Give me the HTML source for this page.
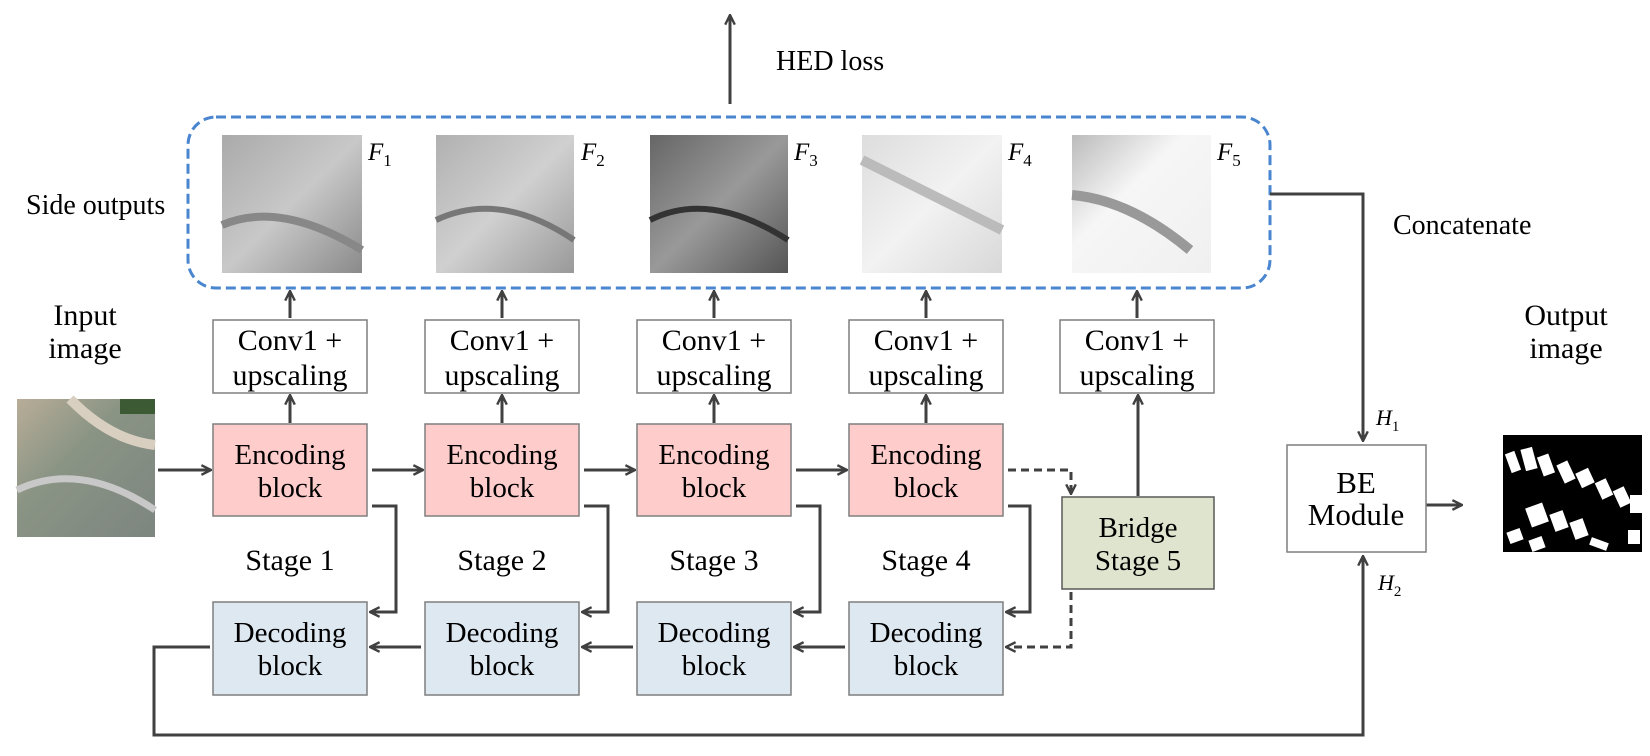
<!DOCTYPE html>
<html><head><meta charset="utf-8"><style>
html,body{margin:0;padding:0;background:#fff;}
svg{display:block;}
text{font-family:"Liberation Serif",serif;fill:#000;}
</style></head><body>
<svg width="1650" height="756" viewBox="0 0 1650 756" xmlns="http://www.w3.org/2000/svg">
<defs>
<marker id="ah" viewBox="0 0 10 10" refX="9" refY="5" markerWidth="4" markerHeight="4" orient="auto"><path d="M1,1 L9,5 L1,9" fill="none" stroke="#404040" stroke-width="2"/></marker>
<linearGradient id="g1" x1="0" y1="0" x2="1" y2="1"><stop offset="0" stop-color="#aaa"/><stop offset=".5" stop-color="#c8c8c8"/><stop offset="1" stop-color="#8a8a8a"/></linearGradient>
<linearGradient id="g2" x1="0" y1="0" x2="1" y2="1"><stop offset="0" stop-color="#b0b0b0"/><stop offset=".5" stop-color="#d0d0d0"/><stop offset="1" stop-color="#999"/></linearGradient>
<linearGradient id="g3" x1="0" y1="0" x2="1" y2="1"><stop offset="0" stop-color="#666"/><stop offset=".5" stop-color="#999"/><stop offset="1" stop-color="#555"/></linearGradient>
<linearGradient id="g4" x1="0" y1="0" x2="1" y2="1"><stop offset="0" stop-color="#ddd"/><stop offset=".5" stop-color="#f2f2f2"/><stop offset="1" stop-color="#d8d8d8"/></linearGradient>
<linearGradient id="g5" x1="0" y1="0" x2="1" y2="1"><stop offset="0" stop-color="#bbb"/><stop offset=".4" stop-color="#f6f6f6"/><stop offset="1" stop-color="#f0f0f0"/></linearGradient>
<linearGradient id="gin" x1="0" y1="0" x2="1" y2="1"><stop offset="0" stop-color="#b8ad98"/><stop offset=".4" stop-color="#8a9484"/><stop offset="1" stop-color="#7d8580"/></linearGradient>
</defs>

<!-- HED loss -->
<line x1="730" y1="104" x2="730" y2="15" stroke="#404040" stroke-width="3" marker-end="url(#ah)"/>
<text x="776" y="70" font-size="28">HED loss</text>

<!-- dashed box -->
<rect x="188" y="117" width="1082" height="171" rx="28" fill="none" stroke="#4a86d0" stroke-width="3" stroke-dasharray="10,5"/>

<!-- side output images -->
<rect x="222" y="135" width="140" height="138" fill="url(#g1)"/>
<path d="M222,225 Q280,200 362,250" stroke="#888" stroke-width="8" fill="none"/>
<rect x="436" y="135" width="138" height="138" fill="url(#g2)"/>
<path d="M436,220 Q500,190 574,240" stroke="#777" stroke-width="6" fill="none"/>
<rect x="650" y="135" width="138" height="138" fill="url(#g3)"/>
<path d="M650,220 Q710,190 788,240" stroke="#333" stroke-width="6" fill="none"/>
<rect x="862" y="135" width="140" height="138" fill="url(#g4)"/>
<path d="M862,160 L1002,230" stroke="#bbb" stroke-width="10" fill="none"/>
<rect x="1072" y="135" width="139" height="138" fill="url(#g5)"/>
<path d="M1072,195 Q1130,200 1190,250" stroke="#999" stroke-width="10" fill="none"/>
<g font-size="25" font-style="italic">
<text x="368" y="160">F<tspan font-size="17" font-style="normal" dy="6">1</tspan></text>
<text x="581" y="160">F<tspan font-size="17" font-style="normal" dy="6">2</tspan></text>
<text x="794" y="160">F<tspan font-size="17" font-style="normal" dy="6">3</tspan></text>
<text x="1008" y="160">F<tspan font-size="17" font-style="normal" dy="6">4</tspan></text>
<text x="1217" y="160">F<tspan font-size="17" font-style="normal" dy="6">5</tspan></text>
</g>
<text x="26" y="214" font-size="28">Side outputs</text>

<!-- Conv boxes -->
<g font-size="30" text-anchor="middle">
<rect x="213" y="320" width="154" height="73" fill="#fff" stroke="#7f7f7f" stroke-width="1.5"/>
<text x="290" y="350">Conv1 +</text><text x="290" y="385">upscaling</text>
<rect x="425" y="320" width="154" height="73" fill="#fff" stroke="#7f7f7f" stroke-width="1.5"/>
<text x="502" y="350">Conv1 +</text><text x="502" y="385">upscaling</text>
<rect x="637" y="320" width="154" height="73" fill="#fff" stroke="#7f7f7f" stroke-width="1.5"/>
<text x="714" y="350">Conv1 +</text><text x="714" y="385">upscaling</text>
<rect x="849" y="320" width="154" height="73" fill="#fff" stroke="#7f7f7f" stroke-width="1.5"/>
<text x="926" y="350">Conv1 +</text><text x="926" y="385">upscaling</text>
<rect x="1060" y="320" width="154" height="73" fill="#fff" stroke="#7f7f7f" stroke-width="1.5"/>
<text x="1137" y="350">Conv1 +</text><text x="1137" y="385">upscaling</text>
</g>
<g stroke="#404040" stroke-width="3" fill="none" marker-end="url(#ah)">
<line x1="290" y1="318" x2="290" y2="291"/>
<line x1="502" y1="318" x2="502" y2="291"/>
<line x1="714" y1="318" x2="714" y2="291"/>
<line x1="926" y1="318" x2="926" y2="291"/>
<line x1="1137" y1="318" x2="1137" y2="291"/>
<line x1="290" y1="423" x2="290" y2="395"/>
<line x1="502" y1="423" x2="502" y2="395"/>
<line x1="714" y1="423" x2="714" y2="395"/>
<line x1="926" y1="423" x2="926" y2="395"/>
<line x1="1138" y1="496" x2="1138" y2="395"/>
</g>

<!-- blocks -->
<g stroke-width="1.5">
<rect x="213" y="424" width="154" height="92" fill="#ffcccc" stroke="#7f7f7f"/>
<rect x="425" y="424" width="154" height="92" fill="#ffcccc" stroke="#7f7f7f"/>
<rect x="637" y="424" width="154" height="92" fill="#ffcccc" stroke="#7f7f7f"/>
<rect x="849" y="424" width="154" height="92" fill="#ffcccc" stroke="#7f7f7f"/>
<rect x="213" y="602" width="154" height="93" fill="#dee8f1" stroke="#7f7f7f"/>
<rect x="425" y="602" width="154" height="93" fill="#dee8f1" stroke="#7f7f7f"/>
<rect x="637" y="602" width="154" height="93" fill="#dee8f1" stroke="#7f7f7f"/>
<rect x="849" y="602" width="154" height="93" fill="#dee8f1" stroke="#7f7f7f"/>
<rect x="1062" y="497" width="152" height="92" fill="#dfe4cf" stroke="#595959"/>
</g>
<g font-size="29" text-anchor="middle">
<text x="290" y="464">Encoding</text><text x="290" y="497">block</text>
<text x="502" y="464">Encoding</text><text x="502" y="497">block</text>
<text x="714" y="464">Encoding</text><text x="714" y="497">block</text>
<text x="926" y="464">Encoding</text><text x="926" y="497">block</text>
<text x="290" y="642">Decoding</text><text x="290" y="675">block</text>
<text x="502" y="642">Decoding</text><text x="502" y="675">block</text>
<text x="714" y="642">Decoding</text><text x="714" y="675">block</text>
<text x="926" y="642">Decoding</text><text x="926" y="675">block</text>
<text x="1138" y="537">Bridge</text><text x="1138" y="570">Stage 5</text>
</g>
<g font-size="30" text-anchor="middle">
<text x="290" y="570">Stage 1</text>
<text x="502" y="570">Stage 2</text>
<text x="714" y="570">Stage 3</text>
<text x="926" y="570">Stage 4</text>
<text x="85" y="325">Input</text><text x="85" y="358">image</text>
<text x="1566" y="325">Output</text><text x="1566" y="358">image</text>
</g>
<text x="1393" y="234" font-size="28">Concatenate</text>
<g font-size="22" font-style="italic">
<text x="1376" y="425">H<tspan font-size="15" font-style="normal" dy="6">1</tspan></text>
<text x="1378" y="590">H<tspan font-size="15" font-style="normal" dy="6">2</tspan></text>
</g>

<!-- arrows -->
<g stroke="#404040" stroke-width="3" fill="none" marker-end="url(#ah)">
<line x1="158" y1="470" x2="211" y2="470"/>
<line x1="372" y1="470" x2="423" y2="470"/>
<line x1="584" y1="470" x2="635" y2="470"/>
<line x1="796" y1="470" x2="847" y2="470"/>
<polyline points="372,506 396,506 396,612 370,612"/>
<polyline points="584,506 608,506 608,612 582,612"/>
<polyline points="796,506 820,506 820,612 794,612"/>
<polyline points="1008,506 1030,506 1030,612 1006,612"/>
<line x1="421" y1="647" x2="370" y2="647"/>
<line x1="633" y1="647" x2="582" y2="647"/>
<line x1="845" y1="647" x2="794" y2="647"/>
<polyline points="1008,470 1071,470 1071,494" stroke-dasharray="8,5"/>
<polyline points="1071,592 1071,647 1006,647" stroke-dasharray="8,5"/>
<polyline points="1270,194 1363,194 1363,441"/>
<polyline points="210,647 154,647 154,735 1363,735 1363,556"/>
<line x1="1413" y1="505" x2="1462" y2="505"/>
</g>

<!-- BE module -->
<rect x="1287" y="445" width="139" height="107" fill="#fff" stroke="#7f7f7f" stroke-width="1.5"/>
<g font-size="31" text-anchor="middle">
<text x="1356" y="493">BE</text><text x="1356" y="525">Module</text>
</g>

<!-- input image -->
<rect x="17" y="399" width="138" height="138" fill="url(#gin)"/>
<path d="M17,490 Q80,460 155,510" stroke="#c8c8c8" stroke-width="7" fill="none"/>
<path d="M70,399 Q110,440 155,445" stroke="#d8cfc0" stroke-width="10" fill="none"/>
<rect x="120" y="399" width="35" height="15" fill="#3c5a34"/>

<!-- output image -->
<rect x="1503" y="435" width="139" height="117" fill="#000"/>
<g fill="#fff">
<rect x="1508" y="452" width="10" height="20" transform="rotate(-20 1513 462)"/>
<rect x="1523" y="448" width="12" height="22" transform="rotate(-15 1529 459)"/>
<rect x="1540" y="455" width="12" height="20" transform="rotate(-20 1546 465)"/>
<rect x="1560" y="462" width="12" height="20" transform="rotate(-25 1566 472)"/>
<rect x="1578" y="470" width="14" height="16" transform="rotate(-25 1585 478)"/>
<rect x="1598" y="480" width="12" height="18" transform="rotate(-25 1604 489)"/>
<rect x="1616" y="488" width="12" height="18" transform="rotate(-25 1622 497)"/>
<rect x="1630" y="495" width="12" height="18"/>
<rect x="1528" y="505" width="18" height="20" transform="rotate(-20 1537 515)"/>
<rect x="1552" y="512" width="14" height="18" transform="rotate(-20 1559 521)"/>
<rect x="1572" y="520" width="14" height="18" transform="rotate(-20 1579 529)"/>
<rect x="1508" y="530" width="14" height="12" transform="rotate(-20 1515 536)"/>
<rect x="1530" y="538" width="14" height="12" transform="rotate(-20 1537 544)"/>
<rect x="1590" y="540" width="18" height="8" transform="rotate(20 1599 544)"/>
<rect x="1628" y="530" width="12" height="14"/>
</g>
</svg>
</body></html>
